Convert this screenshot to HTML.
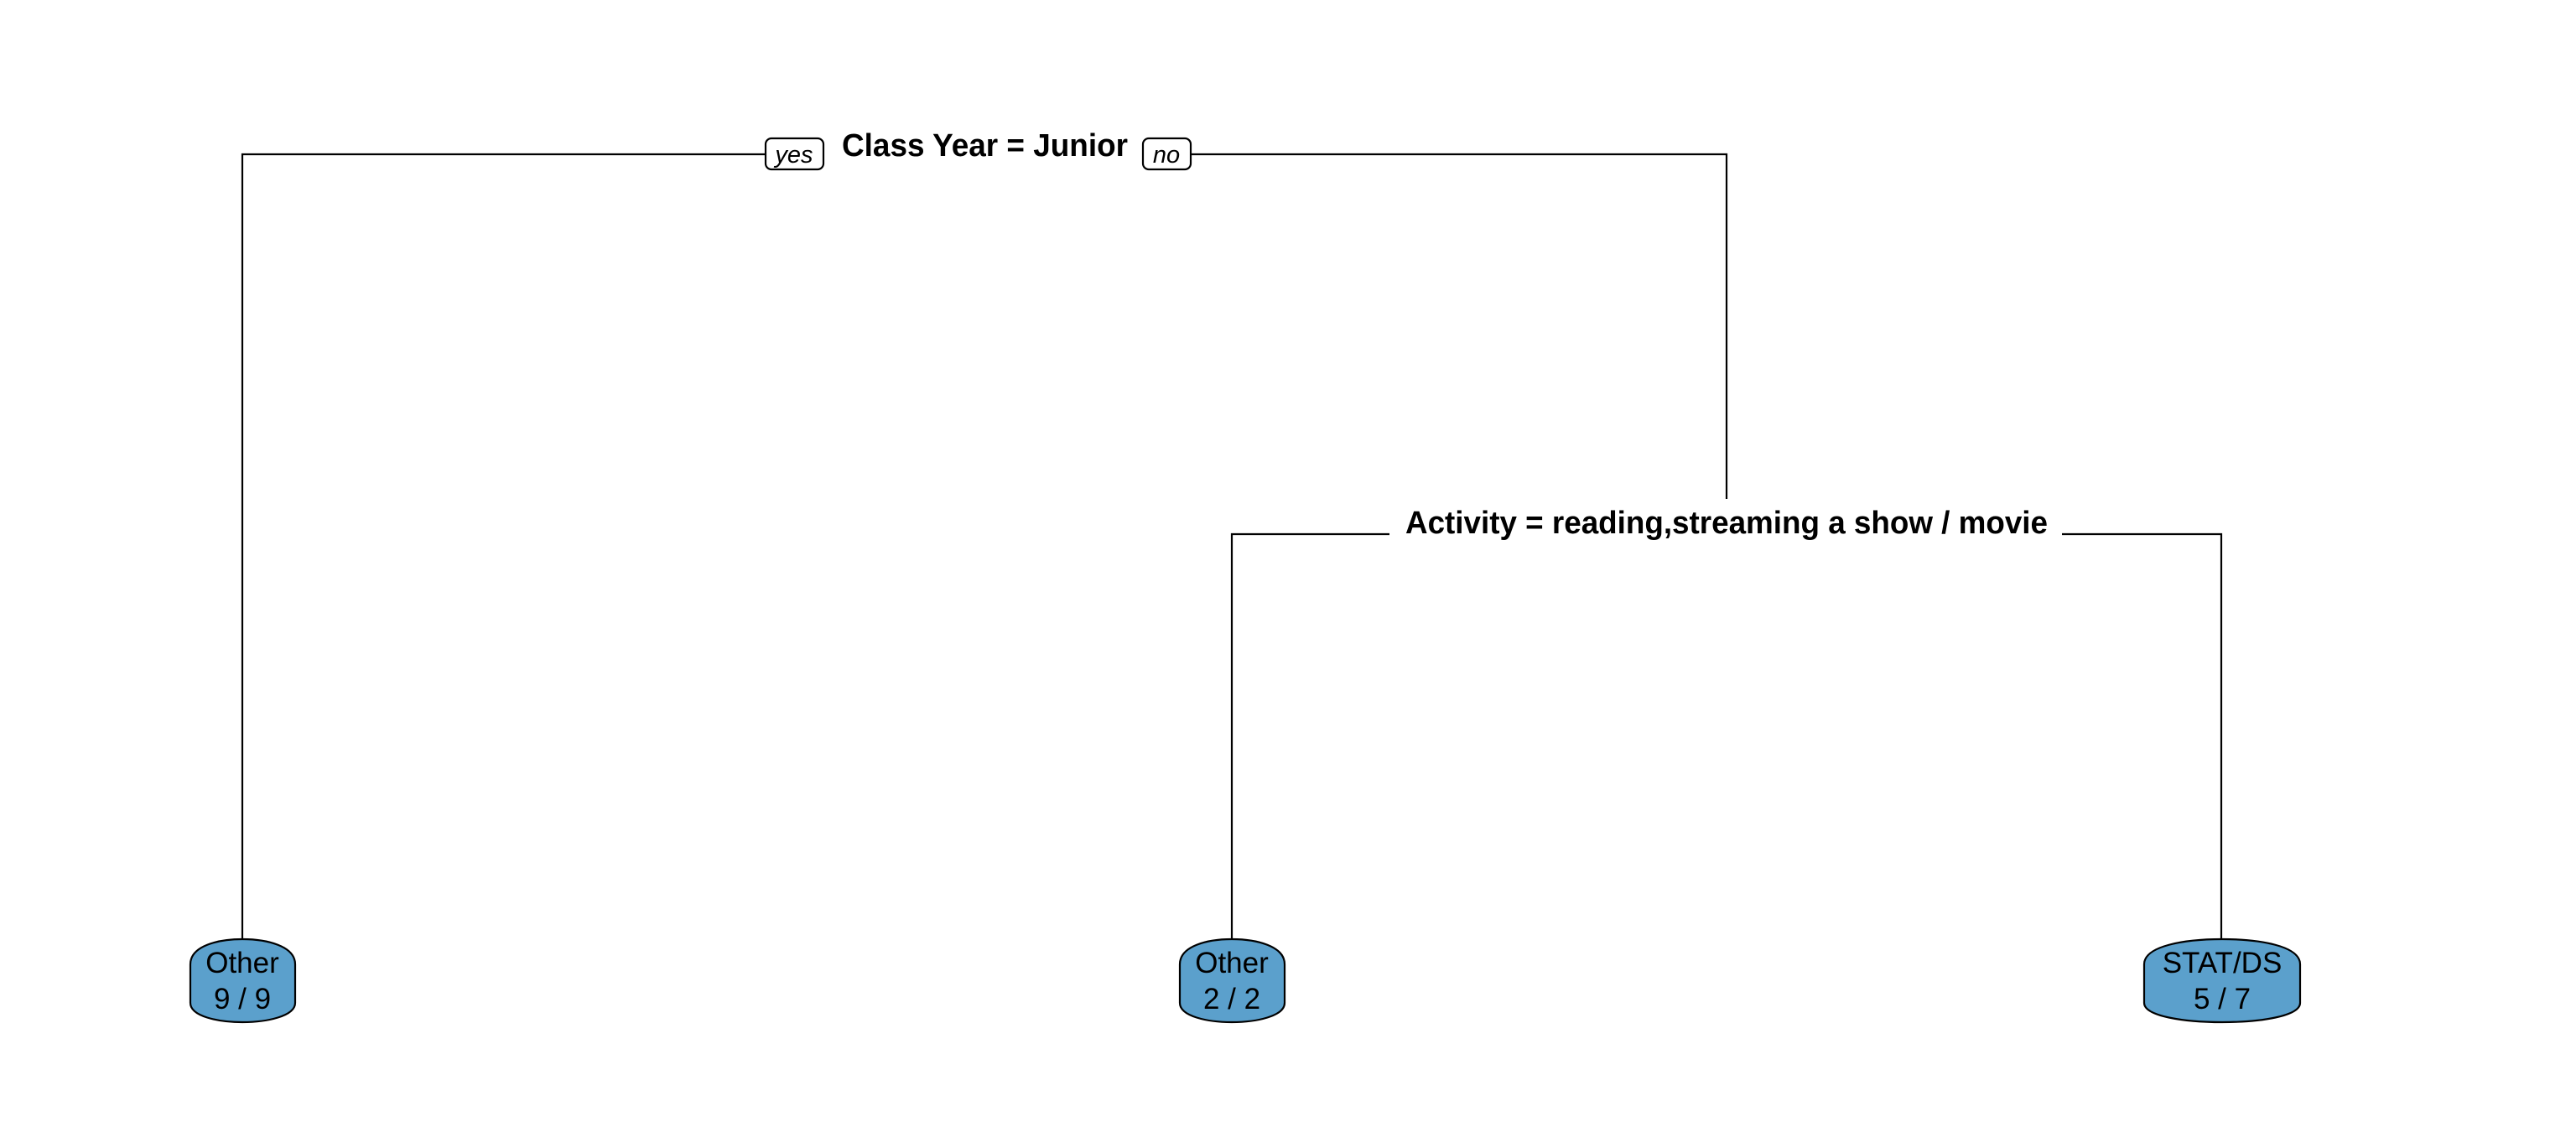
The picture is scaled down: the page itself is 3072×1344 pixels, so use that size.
<!DOCTYPE html>
<html><head><meta charset="utf-8"><style>html,body{margin:0;padding:0;background:#fff}svg{display:block}</style></head>
<body>
<svg width="3072" height="1344" viewBox="0 0 3072 1344" xmlns="http://www.w3.org/2000/svg" font-family="Liberation Sans, Arial, sans-serif">
<g stroke="#000" stroke-width="2.2" fill="none">
<polyline points="289,1122 289,184 913,184"/>
<polyline points="1420,184 2059,184 2059,595"/>
<polyline points="1469,1122 1469,637 1657,637"/>
<polyline points="2459,637 2649,637 2649,1122"/>
</g>
<g stroke="#000" stroke-width="2.2" fill="#fff">
<rect x="913" y="165" width="69" height="37" rx="7"/>
<rect x="1363" y="165" width="57" height="37" rx="7"/>
</g>
<g font-style="italic" font-size="29" text-anchor="middle">
<text x="947" y="194">yes</text>
<text x="1391" y="194">no</text>
</g>
<g font-weight="bold" font-size="38">
<text x="1004" y="186" textLength="341" lengthAdjust="spacingAndGlyphs">Class Year = Junior</text>
<text x="1676" y="636" textLength="766" lengthAdjust="spacingAndGlyphs">Activity = reading,streaming a show / movie</text>
</g>
<g stroke="#000" stroke-width="2.2" fill="#5ba0cc">
<path d="M227,1150 C227,1128 260,1120 289,1120 C318,1120 352,1128 352,1150 L352,1196 C352,1212 318,1219 289,1219 C260,1219 227,1212 227,1196 Z"/>
<path d="M1407,1150 C1407,1128 1440,1120 1469,1120 C1498,1120 1532,1128 1532,1150 L1532,1196 C1532,1212 1498,1219 1469,1219 C1440,1219 1407,1212 1407,1196 Z"/>
<path d="M2557,1150 C2557,1128 2605,1120 2650,1120 C2695,1120 2743,1128 2743,1150 L2743,1196 C2743,1212 2695,1219 2650,1219 C2605,1219 2557,1212 2557,1196 Z"/>
</g>
<g font-size="35" text-anchor="middle" fill="#000">
<text x="289" y="1160">Other</text><text x="289" y="1203">9 / 9</text>
<text x="1469" y="1160">Other</text><text x="1469" y="1203">2 / 2</text>
<text x="2650" y="1160">STAT/DS</text><text x="2650" y="1203">5 / 7</text>
</g>
</svg>
</body></html>
